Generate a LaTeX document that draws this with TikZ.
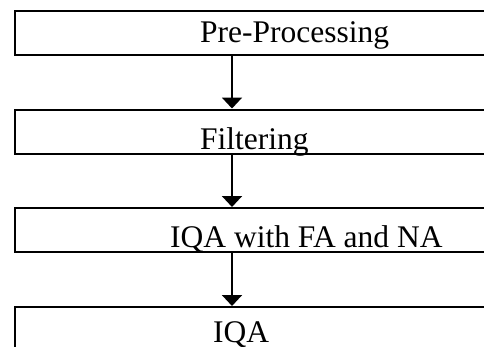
\documentclass[tikz,border=0pt]{standalone}
\usepackage{fontspec}
\setmainfont{Liberation Serif}
\usetikzlibrary{arrows.meta}
\begin{document}
\begin{tikzpicture}[x=1pt,y=-1pt,
  stagebox/.style={draw=black,line width=2pt,rectangle,inner sep=0pt,
    minimum width=486.5pt,minimum height=44pt,anchor=north west},
  stagelabel/.style={inner sep=0pt,anchor=base west,font=\fontsize{31.5}{36}\selectfont},
  flowarrow/.style={line width=2pt,-{Triangle[width=20pt,length=11pt]}}]
\useasboundingbox (0,0) rectangle (484,346);
\clip (0,0) rectangle (484,346);
\node[stagebox] (b1) at (13.5,9.5) {};
\node[stagebox] (b2) at (13.5,108.5) {};
\node[stagebox] (b3) at (13.5,207) {};
\node[stagebox] (b4) at (13.5,306) {};
\node[stagelabel] (t1) at (200,42) {Pre-Processing};
\node[stagelabel] (t2) at (200,149) {Filtering};
\node[stagelabel] (t3) at (170,247.5) {IQA with FA and NA};
\node[stagelabel] (t4) at (213,342) {IQA};
\coordinate (ax) at (232,0);
\draw[flowarrow] (b1.south -| ax) -- (b2.north -| ax);
\draw[flowarrow] (b2.south -| ax) -- (b3.north -| ax);
\draw[flowarrow] (b3.south -| ax) -- (b4.north -| ax);
\end{tikzpicture}
\end{document}
